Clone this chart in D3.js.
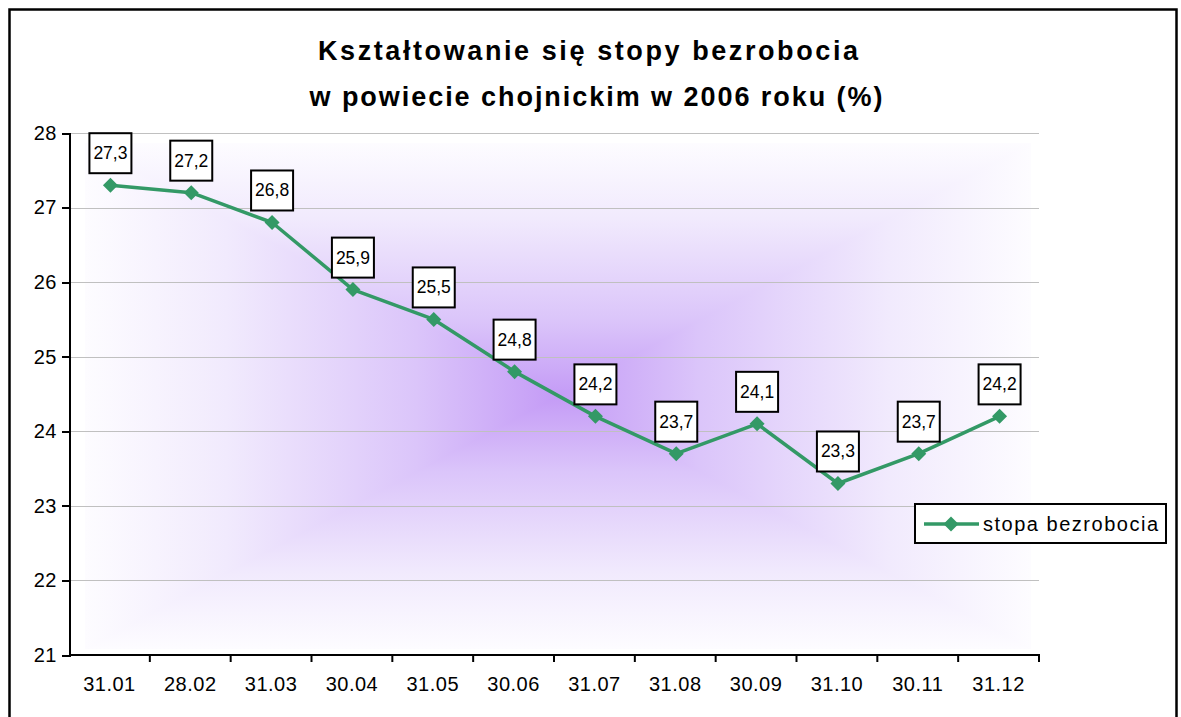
<!DOCTYPE html>
<meta charset="utf-8">
<style>
body { margin: 0; background: #fff; }
text { font-family: Arial, "Liberation Sans", sans-serif; }
.grid line { stroke: #c0c0c0; stroke-width: 1; shape-rendering: crispEdges; }
.grid path { display: none; }
.axis path, .axis line { stroke: #000; stroke-width: 2; shape-rendering: crispEdges; }
.axis text { font-size: 20px; fill: #000; letter-spacing: 0.5px; }
</style>
<body>
<div id="chart"></div>
<script src="https://cdn.jsdelivr.net/npm/d3@7"></script>
<script>
// ---- data ----
const titleLines = ["Kształtowanie się stopy bezrobocia", "w powiecie chojnickim w 2006 roku (%)"];
const months = ["31.01", "28.02", "31.03", "30.04", "31.05", "30.06", "31.07", "31.08", "30.09", "31.10", "30.11", "31.12"];
const rates = [27.3, 27.2, 26.8, 25.9, 25.5, 24.8, 24.2, 23.7, 24.1, 23.3, 23.7, 24.2];
const yTicks = [21, 22, 23, 24, 25, 26, 27, 28];
const seriesName = "stopa bezrobocia";

const W = 1181, H = 717;
const plot = {left: 69, right: 1039, top: 133, bottom: 655};
const green = "#339966";

const svg = d3.select("#chart").append("svg")
    .attr("width", W).attr("height", H);

// outer border
svg.append("rect")
    .attr("x", 9.5).attr("y", 9.5).attr("width", 1167).attr("height", 800)
    .attr("fill", "#fff").attr("stroke", "#000").attr("stroke-width", 2.5);

// scales
const x = d3.scaleBand().domain(months).range([plot.left, plot.right]);
const y = d3.scaleLinear().domain([21, 28]).range([plot.bottom, plot.top]);

// background: rectangular "from center" gradient built from 4 triangles
const defs = svg.append("defs");
const bg = {x0: 85, x1: 1031, y0: 143, y1: 649};
const cx = (bg.x0 + bg.x1) / 2, cy = (bg.y0 + bg.y1) / 2;
const sides = [
  {id: "gTop", pts: [[bg.x0, bg.y0], [bg.x1, bg.y0], [cx, cy]], from: [0, bg.y0], to: [0, cy]},
  {id: "gBot", pts: [[bg.x0, bg.y1], [bg.x1, bg.y1], [cx, cy]], from: [0, bg.y1], to: [0, cy]},
  {id: "gLeft", pts: [[bg.x0, bg.y0], [bg.x0, bg.y1], [cx, cy]], from: [bg.x0, 0], to: [cx, 0]},
  {id: "gRight", pts: [[bg.x1, bg.y0], [bg.x1, bg.y1], [cx, cy]], from: [bg.x1, 0], to: [cx, 0]}
];
sides.forEach(function(s) {
  const g = defs.append("linearGradient").attr("id", s.id)
      .attr("gradientUnits", "userSpaceOnUse")
      .attr("x1", s.from[0]).attr("y1", s.from[1])
      .attr("x2", s.to[0]).attr("y2", s.to[1]);
  g.append("stop").attr("offset", "0%").attr("stop-color", "#fdfcff");
  g.append("stop").attr("offset", "30%").attr("stop-color", "#f1eafd");
  g.append("stop").attr("offset", "70%").attr("stop-color", "#dbc5fa");
  g.append("stop").attr("offset", "100%").attr("stop-color", "#c49bf6");
});
sides.forEach(function(s) {
  svg.append("path")
      .attr("d", "M" + s.pts.join("L") + "Z")
      .attr("fill", "url(#" + s.id + ")")
      .attr("stroke", "url(#" + s.id + ")")
      .attr("stroke-width", 1.5)
      .attr("stroke-linejoin", "round");
});
// re-clip the stroked edges to the gradient box
svg.append("path")
    .attr("d", "M" + plot.left + "," + plot.top + "H" + plot.right + "V" + plot.bottom + "H" + plot.left + "Z" +
               "M" + bg.x0 + "," + bg.y0 + "V" + bg.y1 + "H" + bg.x1 + "V" + bg.y0 + "Z")
    .attr("fill", "#fff").attr("fill-rule", "evenodd");

// gridlines
svg.append("g").attr("class", "grid")
    .attr("transform", "translate(" + plot.left + ",0)")
    .call(d3.axisRight(y).tickValues(yTicks.slice(1)).tickSize(plot.right - plot.left).tickFormat(""));

// title
const titleX = [588, 596];
svg.append("g").selectAll("text").data(titleLines).join("text")
    .attr("x", function(d, i) { return titleX[i]; })
    .attr("y", function(d, i) { return 60 + i * 46; })
    .attr("text-anchor", "middle")
    .attr("textLength", function(d, i) { return i === 0 ? 540 : 573; })
    .attr("lengthAdjust", "spacing")
    .style("font-size", "27px").style("font-weight", "bold")
    .text(function(d) { return d; });

// axes
svg.append("g").attr("class", "axis")
    .attr("transform", "translate(" + plot.left + ",0)")
    .call(d3.axisLeft(y).tickValues(yTicks).tickSize(7).tickPadding(5).tickFormat(d3.format("d")));

const xAxis = svg.append("g").attr("class", "axis")
    .attr("transform", "translate(0," + plot.bottom + ")")
    .call(d3.axisBottom(x).tickSize(0).tickPadding(22));
xAxis.select(".domain").remove();
svg.append("line")
    .attr("x1", plot.left).attr("x2", plot.right + 1)
    .attr("y1", plot.bottom).attr("y2", plot.bottom)
    .attr("stroke", "#000").attr("stroke-width", 2);
// tick marks at category boundaries
svg.append("g").selectAll("line").data(months).join("line")
    .attr("x1", function(d) { return x(d) + x.bandwidth(); })
    .attr("x2", function(d) { return x(d) + x.bandwidth(); })
    .attr("y1", plot.bottom).attr("y2", plot.bottom + 7)
    .attr("stroke", "#000").attr("stroke-width", 2);

// line
const cxOf = function(d, i) { return x(months[i]) + x.bandwidth() / 2 + 1; };
svg.append("path")
    .datum(rates)
    .attr("fill", "none")
    .attr("stroke", green)
    .attr("stroke-width", 3.5)
    .attr("stroke-linejoin", "round")
    .attr("d", d3.line().x(cxOf).y(function(d) { return y(d); }));

// diamond markers
const diamond = "M0,-7.5L7.5,0L0,7.5L-7.5,0Z";
svg.append("g").selectAll("path").data(rates).join("path")
    .attr("transform", function(d, i) { return "translate(" + cxOf(d, i) + "," + y(d) + ")"; })
    .attr("d", diamond)
    .attr("fill", green);

// data labels
const lab = svg.append("g").selectAll("g").data(rates).join("g")
    .attr("transform", function(d, i) { return "translate(" + cxOf(d, i) + "," + (y(d) - 12) + ")"; });
lab.append("rect")
    .attr("x", -21).attr("y", -40).attr("width", 42).attr("height", 40)
    .attr("fill", "#fff").attr("stroke", "#000").attr("stroke-width", 2);
lab.append("text")
    .attr("y", -14)
    .attr("text-anchor", "middle")
    .style("font-size", "17.5px")
    .text(function(d) { return d3.format(".1f")(d).replace(".", ","); });

// legend
const leg = svg.append("g").attr("transform", "translate(915,504)");
leg.append("rect")
    .attr("width", 251).attr("height", 39)
    .attr("fill", "#fff").attr("stroke", "#000").attr("stroke-width", 2);
leg.append("line")
    .attr("x1", 9).attr("x2", 64).attr("y1", 20).attr("y2", 20)
    .attr("stroke", green).attr("stroke-width", 3.5);
leg.append("path")
    .attr("transform", "translate(36,20)")
    .attr("d", diamond).attr("fill", green);
leg.append("text")
    .attr("x", 68).attr("y", 27)
    .attr("textLength", 175).attr("lengthAdjust", "spacing")
    .style("font-size", "20px")
    .text(seriesName);
</script>
</body>
